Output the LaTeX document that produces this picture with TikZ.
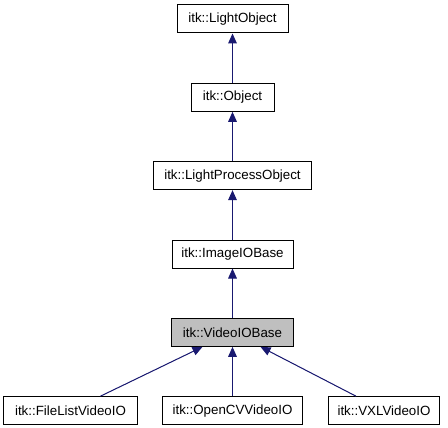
\documentclass[tikz,border=0pt]{standalone}
\usepackage{fontspec}
\setmainfont{Liberation Sans}
\usetikzlibrary{arrows.meta, positioning}

\definecolor{edgeblue}{HTML}{191970}
\definecolor{selgray}{HTML}{BFBFBF}

\begin{document}
\begin{tikzpicture}[
    x=0.75pt, y=-0.75pt,
    node distance=37pt and 18pt,
    font=\fontsize{10pt}{12pt}\selectfont,
    cls/.style={rectangle, draw=black, line width=0.75pt, fill=white, align=center, minimum height=21pt, inner sep=2pt},
    current/.style={cls, fill=selgray},
    inherit/.style={-{Triangle[length=7.5pt, width=6.5pt]}, draw=edgeblue, fill=edgeblue, line width=0.75pt}
]
\useasboundingbox (0,0) rectangle (448,427);

% Ancestor chain
\node[cls, minimum width=83.25pt] (lightobj) at (232.5,19) {itk::LightObject};
\node[cls, minimum width=62.25pt, below=of lightobj] (object) {itk::Object};
\node[cls, minimum width=118.5pt, below=of object] (lightproc) {itk::LightProcessObject};
\node[cls, minimum width=90.75pt, below=of lightproc] (imageio) {itk::ImageIOBase};
\node[current, minimum width=91.5pt, below=of imageio] (videoio) {itk::VideoIOBase};

% Derived classes
\node[cls, minimum width=105pt, below=of videoio] (opencv) {itk::OpenCVVideoIO};
\node[cls, minimum width=100.5pt, left=of opencv] (filelist) {itk::FileListVideoIO};
\node[cls, minimum width=83.25pt, right=18.75pt of opencv] (vxl) {itk::VXLVideoIO};

% Inheritance edges
\draw[inherit] (object) -- (lightobj);
\draw[inherit] (lightproc) -- (object);
\draw[inherit] (imageio) -- (lightproc);
\draw[inherit] (videoio) -- (imageio);
\draw[inherit] (filelist) -- (videoio);
\draw[inherit] (opencv) -- (videoio);
\draw[inherit] (vxl) -- (videoio);

\end{tikzpicture}
\end{document}
